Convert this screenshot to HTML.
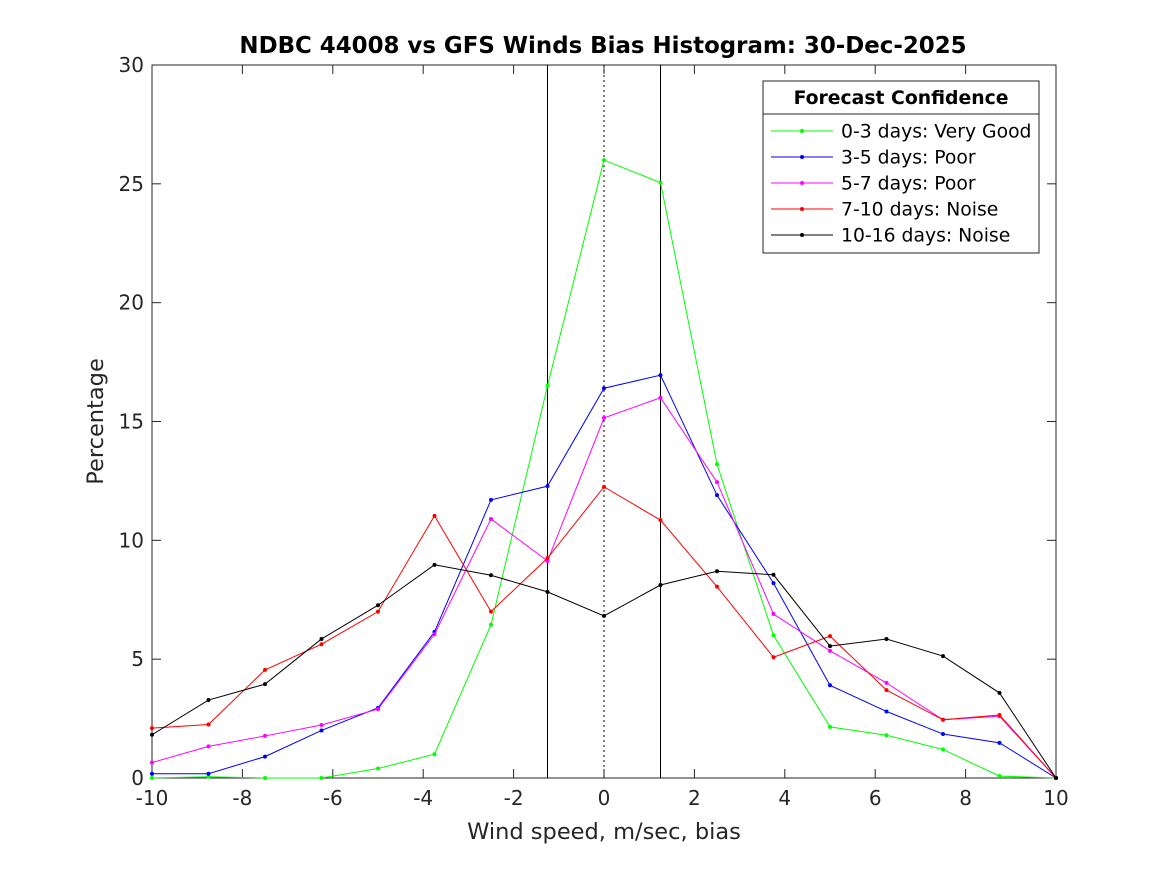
<!DOCTYPE html>
<html><head><meta charset="utf-8"><style>
body{margin:0;background:#fff;}
svg{display:block;font-family:"DejaVu Sans","Liberation Sans",sans-serif;}
</style></head><body>
<svg id="chart" width="1167" height="875">
<rect width="1167" height="875" fill="#fff"/>
<text x="603" y="53" text-anchor="middle" font-size="22.9" font-weight="bold">NDBC 44008 vs GFS Winds Bias Histogram: 30-Dec-2025</text>
<g id="axes"></g>
<g id="series"></g>
<g id="legend"></g>
</svg>
<script>
const xValues=[-10,-8.75,-7.5,-6.25,-5,-3.75,-2.5,-1.25,0,1.25,2.5,3.75,5,6.25,7.5,8.75,10];
const green=[0,0.05,0,0,0.4,1.0,6.45,16.5,26.0,25.05,13.2,6.0,2.15,1.8,1.2,0.08,0];
const blue=[0.18,0.18,0.9,2.0,2.95,6.15,11.7,12.28,16.4,16.95,11.9,8.2,3.9,2.8,1.85,1.48,0];
const magenta=[0.65,1.33,1.77,2.23,2.9,6.05,10.9,9.13,15.15,16.0,12.45,6.9,5.35,4.0,2.45,2.6,0];
const red=[2.1,2.25,4.55,5.63,7.0,11.03,7.0,9.25,12.25,10.85,8.05,5.08,5.97,3.7,2.45,2.65,0];
const black=[1.82,3.28,3.95,5.85,7.27,8.97,8.53,7.83,6.82,8.12,8.7,8.55,5.55,5.85,5.13,3.58,0];
const seriesNames=["0-3 days: Very Good","3-5 days: Poor","5-7 days: Poor","7-10 days: Noise","10-16 days: Noise"];
const xTicks=[-10,-8,-6,-4,-2,0,2,4,6,8,10];
const yTicks=[0,5,10,15,20,25,30];
const refLines=[-1.25,0,1.25];

const NS="http://www.w3.org/2000/svg";
const L=152,R=1056,T=65,B=778;
const sx=v=>L+(v+10)/20*(R-L);
const sy=v=>B-v/30*(B-T);
function mk(tag,attrs,parent){const e=document.createElementNS(NS,tag);for(const k in attrs)e.setAttribute(k,attrs[k]);parent.appendChild(e);return e;}
const axes=document.getElementById('axes');
const frame=mk('rect',{x:L,y:T,width:R-L,height:B-T,fill:'none',stroke:'#262626','stroke-width':1},axes);


xTicks.forEach(t=>{
 const x=sx(t);
 mk('line',{x1:x,x2:x,y1:B,y2:B-9,stroke:'#262626'},axes);
 mk('line',{x1:x,x2:x,y1:T,y2:T+9,stroke:'#262626'},axes);
 const tx=mk('text',{x:x,y:B+27,'text-anchor':'middle','font-size':20,fill:'#262626'},axes);
 tx.textContent=t;
 
 
});
yTicks.forEach(t=>{
 const y=sy(t);
 mk('line',{x1:L,x2:L+9,y1:y,y2:y,stroke:'#262626'},axes);
 mk('line',{x1:R,x2:R-9,y1:y,y2:y,stroke:'#262626'},axes);
 const tx=mk('text',{x:L-8,y:y+7,'text-anchor':'end','font-size':20,fill:'#262626'},axes);
 tx.textContent=t;
 
 
});
const xt=mk('text',{x:(L+R)/2,y:839,'text-anchor':'middle','font-size':22.5,fill:'#262626'},axes);
xt.textContent='Wind speed, m/sec, bias';


const yt=mk('text',{x:0,y:0,'text-anchor':'middle','font-size':22.5,fill:'#262626',transform:`translate(103,${(T+B)/2}) rotate(-90)`},axes);
yt.textContent='Percentage';


refLines.forEach(v=>{
 const ln=mk('line',{x1:sx(v),x2:sx(v),y1:T,y2:B,stroke:'#000','stroke-width':1},axes);
 if(v===0)ln.setAttribute('stroke-dasharray','2,3');
 
 
});
const sg=document.getElementById('series');
const data=[green,blue,magenta,red,black];
const colors=['#00ff00','#0000ff','#ff00ff','#ff0000','#000000'];
data.forEach((arr,i)=>{
 const pts=arr.map((v,j)=>sx(xValues[j])+','+sy(v)).join(' ');
 const pl=mk('polyline',{points:pts,fill:'none',stroke:colors[i],'stroke-width':1},sg);
 
 
 arr.forEach((v,j)=>{
  const c=mk('circle',{cx:sx(xValues[j]),cy:sy(v),r:2,fill:colors[i]},sg);
  
  
 });
});
const lg=document.getElementById('legend');
const box=mk('rect',{x:763,y:81,width:276,height:172,fill:'#fff',stroke:'#262626'},lg);


mk('line',{x1:763,x2:1039,y1:114,y2:114,stroke:'#262626'},lg);
const lt=mk('text',{x:901,y:104,'text-anchor':'middle','font-size':18.8,'font-weight':'bold'},lg);
lt.textContent='Forecast Confidence';


seriesNames.forEach((n,i)=>{
 const y=131+i*26;
 mk('line',{x1:771,x2:833,y1:y,y2:y,stroke:colors[i]},lg);
 mk('circle',{cx:802,cy:y,r:2,fill:colors[i]},lg);
 const t=mk('text',{x:841,y:y+6.5,'font-size':18.8,fill:'#000'},lg);
 t.textContent=n;
 
 
});
</script>
</body></html>
